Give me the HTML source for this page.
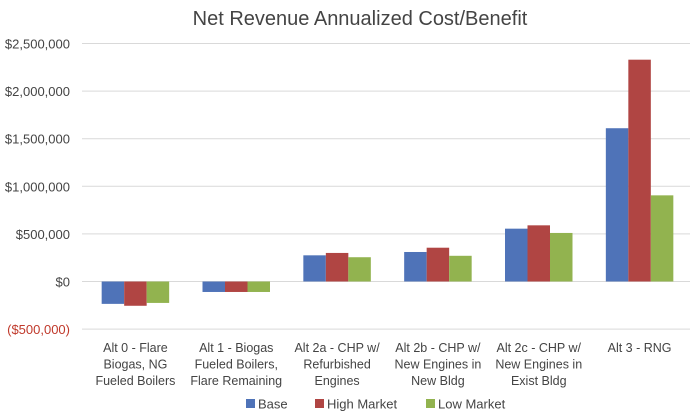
<!DOCTYPE html>
<html><head><meta charset="utf-8"><style>
html,body{margin:0;padding:0;background:#fff;}
svg{display:block;font-family:"Liberation Sans",sans-serif;}
</style></head><body>
<svg id="chart" width="698" height="415" viewBox="0 0 698 415">
<text x="360" y="25" text-anchor="middle" font-size="20" fill="#444">Net Revenue Annualized Cost/Benefit</text>
<g id="grid"></g><g id="bars"></g><g id="labels"></g><g id="legend"></g>
</svg>
<script>
const categories=[["Alt 0 - Flare","Biogas, NG","Fueled Boilers"],["Alt 1 - Biogas","Fueled Boilers,","Flare Remaining"],["Alt 2a - CHP w/","Refurbished","Engines"],["Alt 2b - CHP w/","New Engines in","New Bldg"],["Alt 2c - CHP w/","New Engines in","Exist Bldg"],["Alt 3 - RNG"]];
const seriesNames=["Base","High Market","Low Market"];
const baseValues=[-235000,-110000,275000,310000,555000,1610000];
const highValues=[-255000,-110000,300000,355000,590000,2330000];
const lowValues=[-225000,-110000,255000,270000,510000,905000];
const tickValues=[-500000,0,500000,1000000,1500000,2000000,2500000];
const tickLabels=["($500,000)","$0","$500,000","$1,000,000","$1,500,000","$2,000,000","$2,500,000"];
const colors=["#4f73b8","#b04543","#92b34f"];
const NS="http://www.w3.org/2000/svg";
const plotL=85,plotR=690,zeroY=281.5,pxPer=47.6/500000;
function y(v){return zeroY-v*pxPer;}
const catW=(plotR-plotL)/categories.length;
function x(i){return plotL+catW*i;}
function mk(tag,attrs,parent){const e=document.createElementNS(NS,tag);for(const k in attrs)e.setAttribute(k,attrs[k]);parent.appendChild(e);return e;}
const grid=document.getElementById('grid'),bars=document.getElementById('bars'),labels=document.getElementById('labels'),legend=document.getElementById('legend');
tickValues.forEach((v,i)=>{
 const l=mk('line',{x1:82,x2:plotR,y1:y(v),y2:y(v),stroke:'#d9d9d9','stroke-width':1},grid);
 
 
 const t=mk('text',{x:70,y:y(v)+5,'text-anchor':'end','font-size':13,fill:v<0?'#c0392b':'#444'},labels);
 t.textContent=tickLabels[i];
 
 
});
const series=[baseValues,highValues,lowValues];
const bw=22.5;
categories.forEach((c,i)=>{
 const gx=x(i)+(catW-3*bw)/2;
 series.forEach((s,j)=>{
  const v=s[i];
  const r=mk('rect',{x:gx+j*bw,y:Math.min(y(v),y(0)),width:bw,height:Math.abs(y(v)-y(0)),fill:colors[j]},bars);
  
  
 });
 c.forEach((line,k)=>{
  const t=mk('text',{x:x(i)+catW/2,y:352+k*16.5,'text-anchor':'middle','font-size':12.5,fill:'#444'},labels);
  t.textContent=line;
  
  
 });
});
const lx=[246,315,426];
seriesNames.forEach((n,j)=>{
 const r=mk('rect',{x:lx[j],y:399,width:9,height:9,fill:colors[j]},legend);
 
 
 const t=mk('text',{x:lx[j]+12,y:408.5,'font-size':13,fill:'#444'},legend);
 t.textContent=n;
 
 
});
</script>
</body></html>
